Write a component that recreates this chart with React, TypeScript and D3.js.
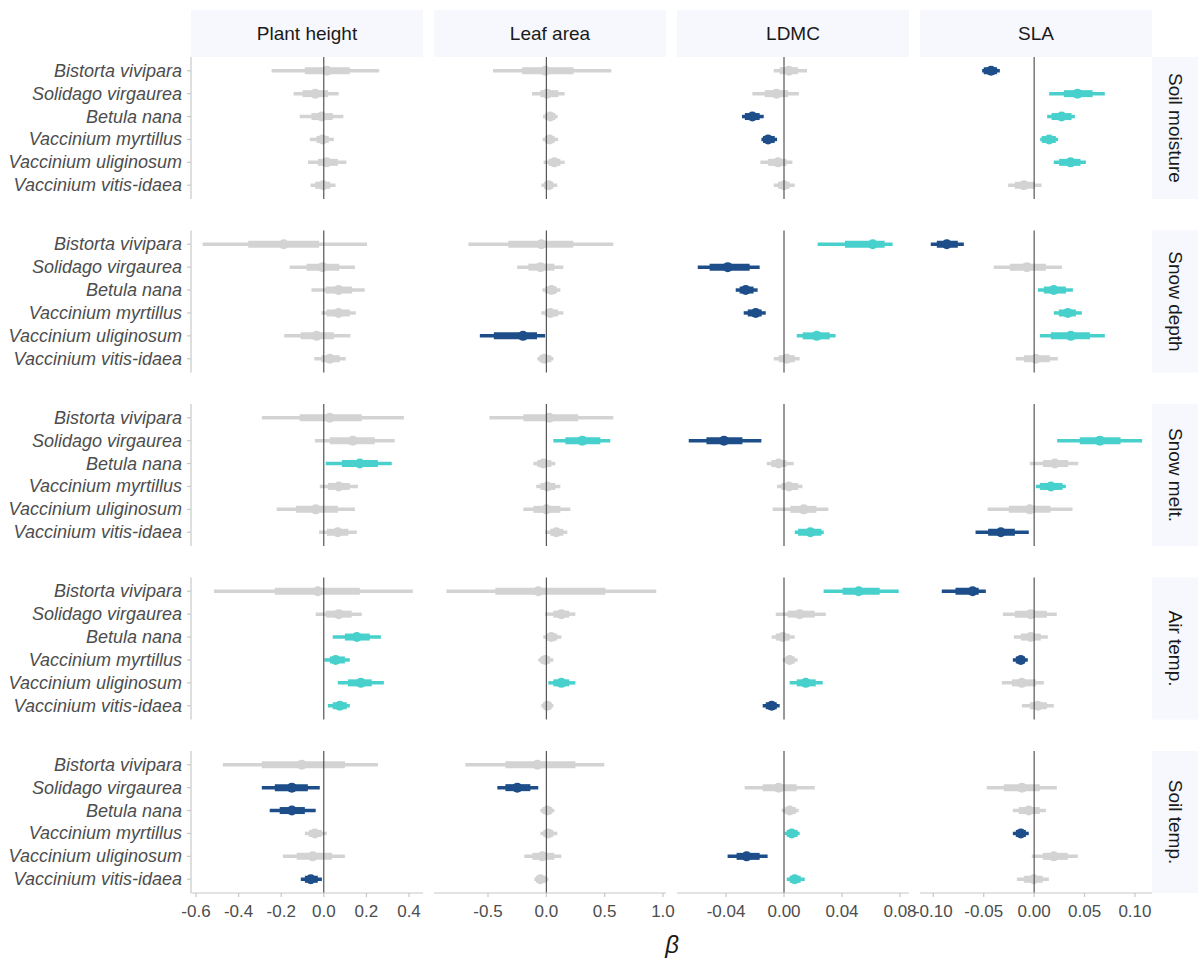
import * as d3 from "d3";

// species, drivers (rows) and traits (columns)
const species = [
  "Bistorta vivipara",
  "Solidago virgaurea",
  "Betula nana",
  "Vaccinium myrtillus",
  "Vaccinium uliginosum",
  "Vaccinium vitis-idaea",
];
const drivers = ["Soil moisture", "Snow depth", "Snow melt.", "Air temp.", "Soil temp."];
const traits = ["Plant height", "Leaf area", "LDMC", "SLA"];

// each entry: [estimate, 66% lo, 66% hi, 95% lo, 95% hi, direction]
// direction: 1 = positive, -1 = negative, 0 = overlaps zero; null = no estimate
type Est = [number, number, number, number, number, number] | null;

const plantHeight: Est[] = [
  // Soil moisture
  [0.015, -0.089, 0.122, -0.245, 0.26, 0],
  [-0.04, -0.1, 0.02, -0.142, 0.07, 0],
  [-0.01, -0.058, 0.042, -0.113, 0.092, 0],
  [-0.006, -0.034, 0.023, -0.066, 0.047, 0],
  [0.013, -0.028, 0.066, -0.074, 0.106, 0],
  [-0.003, -0.04, 0.03, -0.062, 0.055, 0],
  // Snow depth
  [-0.188, -0.355, -0.022, -0.569, 0.203, 0],
  [-0.006, -0.081, 0.072, -0.16, 0.146, 0],
  [0.069, 0.008, 0.133, -0.058, 0.192, 0],
  [0.069, 0.013, 0.122, -0.011, 0.15, 0],
  [-0.034, -0.108, 0.047, -0.186, 0.125, 0],
  [0.028, -0.011, 0.075, -0.045, 0.103, 0],
  // Snow melt
  [0.028, -0.113, 0.178, -0.291, 0.376, 0],
  [0.136, 0.028, 0.239, -0.042, 0.333, 0],
  [0.169, 0.085, 0.254, 0.009, 0.319, 1],
  [0.07, 0.019, 0.122, -0.019, 0.16, 0],
  [-0.038, -0.131, 0.066, -0.221, 0.146, 0],
  [0.065, 0.015, 0.115, -0.022, 0.155, 0],
  // Air temp
  [-0.028, -0.23, 0.169, -0.516, 0.418, 0],
  [0.07, 0.009, 0.131, -0.038, 0.178, 0],
  [0.155, 0.099, 0.216, 0.042, 0.268, 1],
  [0.056, 0.028, 0.099, 0.003, 0.122, 1],
  [0.174, 0.113, 0.225, 0.066, 0.282, 1],
  [0.075, 0.042, 0.108, 0.019, 0.122, 1],
  // Soil temp
  [-0.103, -0.291, 0.099, -0.474, 0.254, 0],
  [-0.15, -0.23, -0.075, -0.291, -0.019, -1],
  [-0.15, -0.207, -0.089, -0.254, -0.038, -1],
  [-0.042, -0.07, -0.009, -0.089, 0.014, 0],
  [-0.052, -0.127, 0.038, -0.192, 0.099, 0],
  [-0.061, -0.089, -0.028, -0.108, -0.009, -1],
];

const leafArea: Est[] = [
  [-0.009, -0.208, 0.234, -0.457, 0.557, 0],
  [0.006, -0.051, 0.103, -0.123, 0.157, 0],
  [0.034, -0.01, 0.077, -0.028, 0.097, 0],
  [0.028, -0.01, 0.07, -0.031, 0.1, 0],
  [0.069, 0.02, 0.12, -0.023, 0.157, 0],
  [0.02, -0.02, 0.06, -0.043, 0.094, 0],
  [-0.043, -0.326, 0.231, -0.668, 0.574, 0],
  [-0.05, -0.154, 0.069, -0.25, 0.146, 0],
  [0.043, -0.01, 0.09, -0.034, 0.12, 0],
  [0.034, -0.01, 0.1, -0.043, 0.146, 0],
  [-0.2, -0.45, -0.08, -0.57, -0.01, -1],
  [-0.017, -0.06, 0.043, -0.077, 0.06, 0],
  [0.026, -0.197, 0.274, -0.488, 0.574, 0],
  [0.308, 0.163, 0.463, 0.06, 0.548, 1],
  [-0.026, -0.077, 0.043, -0.111, 0.077, 0],
  [0.009, -0.051, 0.077, -0.086, 0.12, 0],
  [0.0, -0.111, 0.12, -0.197, 0.206, 0],
  [0.086, 0.034, 0.146, -0.01, 0.18, 0],
  [-0.069, -0.437, 0.506, -0.857, 0.943, 0],
  [0.129, 0.06, 0.197, -0.01, 0.249, 0],
  [0.043, 0.0, 0.094, -0.026, 0.129, 0],
  [-0.009, -0.051, 0.034, -0.069, 0.06, 0],
  [0.129, 0.06, 0.197, 0.017, 0.249, 1],
  [0.009, -0.026, 0.043, -0.043, 0.06, 0],
  [-0.077, -0.351, 0.249, -0.694, 0.497, 0],
  [-0.249, -0.351, -0.137, -0.42, -0.069, -1],
  [0.009, -0.034, 0.051, -0.051, 0.069, 0],
  [0.017, -0.026, 0.06, -0.051, 0.094, 0],
  [-0.034, -0.12, 0.069, -0.189, 0.129, 0],
  [-0.051, -0.086, 0.0, -0.103, 0.017, 0],
];

const ldmc: Est[] = [
  [0.0034, -0.003, 0.0097, -0.0071, 0.0159, 0],
  [-0.0052, -0.0133, 0.0028, -0.0218, 0.0103, 0],
  [-0.0218, -0.027, -0.0168, -0.029, -0.014, -1],
  [-0.011, -0.0145, -0.0064, -0.0156, -0.0048, -1],
  [-0.0041, -0.011, 0.0017, -0.0163, 0.0058, 0],
  [0.0, -0.0041, 0.0039, -0.0071, 0.0074, 0],
  [0.0612, 0.042, 0.0694, 0.0232, 0.0749, 1],
  [-0.0388, -0.0513, -0.0237, -0.0595, -0.0168, -1],
  [-0.0264, -0.0306, -0.021, -0.0333, -0.0182, -1],
  [-0.0195, -0.025, -0.0154, -0.0278, -0.0126, -1],
  [0.0226, 0.0129, 0.0315, 0.0088, 0.0356, 1],
  [0.0019, -0.0037, 0.0074, -0.0071, 0.0108, 0],
  null,
  [-0.0414, -0.0535, -0.0287, -0.0657, -0.0156, -1],
  [-0.0037, -0.0087, 0.0017, -0.0119, 0.0067, 0],
  [0.0034, -0.0018, 0.0097, -0.0048, 0.0127, 0],
  [0.0136, 0.0044, 0.0223, -0.0078, 0.0306, 0],
  [0.0182, 0.0097, 0.0258, 0.0074, 0.0274, 1],
  [0.0515, 0.0404, 0.066, 0.0273, 0.0791, 1],
  [0.0108, 0.0025, 0.0211, -0.0057, 0.0288, 0],
  [-0.0009, -0.0057, 0.0039, -0.0085, 0.0074, 0],
  [0.0039, 0.0012, 0.0074, -0.0009, 0.0094, 0],
  [0.015, 0.0088, 0.0219, 0.0039, 0.0267, 1],
  [-0.0085, -0.0126, -0.005, -0.0147, -0.003, -1],
  null,
  [-0.0037, -0.0147, 0.0087, -0.0271, 0.0212, 0],
  [0.0039, 0.0005, 0.0081, -0.0016, 0.0101, 0],
  [0.0053, 0.0019, 0.0094, 0.0005, 0.0108, 1],
  [-0.0258, -0.0327, -0.0168, -0.0389, -0.0113, -1],
  [0.0074, 0.0039, 0.0115, 0.0019, 0.0143, 1],
];

const sla: Est[] = [
  [-0.0427, -0.05, -0.0367, -0.0516, -0.034, -1],
  [0.043, 0.0295, 0.058, 0.0149, 0.0701, 1],
  [0.0272, 0.0173, 0.0371, 0.0129, 0.0404, 1],
  [0.0149, 0.0076, 0.0215, 0.006, 0.0238, 1],
  [0.0361, 0.0248, 0.046, 0.0195, 0.0513, 1],
  [-0.0102, -0.0191, 0.0007, -0.0258, 0.0073, 0],
  [-0.0866, -0.0965, -0.0757, -0.1025, -0.0697, -1],
  [-0.0072, -0.0241, 0.0116, -0.04, 0.0275, 0],
  [0.0195, 0.0096, 0.0315, 0.0037, 0.0384, 1],
  [0.0334, 0.0245, 0.0414, 0.0195, 0.0473, 1],
  [0.0364, 0.0166, 0.0553, 0.0057, 0.0701, 1],
  [0.0017, -0.0102, 0.0156, -0.0182, 0.0235, 0],
  null,
  [0.0652, 0.0453, 0.0857, 0.0228, 0.1071, 1],
  [0.0205, 0.0089, 0.0337, -0.0043, 0.0437, 0],
  [0.0166, 0.0057, 0.0282, 0.0017, 0.0314, 1],
  [-0.0043, -0.0251, 0.0163, -0.0462, 0.0381, 0],
  [-0.033, -0.0456, -0.0191, -0.0581, -0.0053, -1],
  [-0.061, -0.078, -0.055, -0.0916, -0.0479, -1],
  [-0.0033, -0.0191, 0.0126, -0.031, 0.0225, 0],
  [-0.0033, -0.0132, 0.0066, -0.0201, 0.0136, 0],
  [-0.0132, -0.0182, -0.0092, -0.0211, -0.0063, -1],
  [-0.0122, -0.0221, 0.0017, -0.032, 0.0096, 0],
  [0.0037, -0.0043, 0.0126, -0.0122, 0.0195, 0],
  null,
  [-0.0122, -0.0301, 0.0056, -0.047, 0.0225, 0],
  [-0.0053, -0.0152, 0.0056, -0.0211, 0.0116, 0],
  [-0.0132, -0.0182, -0.0082, -0.0211, -0.0053, -1],
  [0.0195, 0.0086, 0.0334, -0.0023, 0.0433, 0],
  [-0.0003, -0.0102, 0.0086, -0.0171, 0.0146, 0],
];

const traitData = [plantHeight, leafArea, ldmc, sla];

// axis setup per trait column
const xDomains: [number, number][] = [
  [-0.6235, 0.4657],
  [-0.963, 1.026],
  [-0.0738, 0.0862],
  [-0.1132, 0.1169],
];
const xTicks = [
  [-0.6, -0.4, -0.2, 0, 0.2, 0.4],
  [-0.5, 0, 0.5, 1.0],
  [-0.04, 0, 0.04, 0.08],
  [-0.1, -0.05, 0, 0.05, 0.1],
];
const tickDigits = [1, 1, 2, 2];

const colors: Record<string, string> = {
  "1": "#48D1CC",
  "-1": "#1D4E89",
  "0": "#D3D3D3",
};

const W = 1198;
const H = 960;
const panelLeft = 191;
const panelW = 232;
const colStep = 243;
const panelTop = 57;
const panelH = 142;
const rowStep = 173.5;
const font = "'Liberation Sans', Arial, Helvetica, sans-serif";
const axisGrey = "#C8C8C8";
const textGrey = "#4D4D4D";
const stripFill = "#F7F8FD";

const locale = d3.formatLocale({ decimal: ".", thousands: ",", grouping: [3], currency: ["", ""], minus: "-" });

export default function App() {
  return (
    <svg
      width={W}
      height={H}
      style={{ position: "absolute", left: 0, top: 0, background: "#fff" }}
      fontFamily={font}
    >
      {/* top strips */}
      {traits.map((t, c) => {
        const x0 = panelLeft + c * colStep;
        return (
          <g key={t}>
            <rect x={x0} y={10} width={panelW} height={47} fill={stripFill} />
            <text x={x0 + panelW / 2} y={40} textAnchor="middle" fontSize={19} fill="#1A1A1A">
              {t}
            </text>
          </g>
        );
      })}

      {drivers.map((d, r) => {
        const y0 = panelTop + r * rowStep;
        const y = d3.scalePoint<string>().domain(species).range([y0, y0 + panelH]).padding(0.6);
        return (
          <g key={d}>
            {/* right strip */}
            <rect x={1152} y={y0} width={W - 1152} height={panelH} fill={stripFill} />
            <text
              transform={`translate(1175,${y0 + panelH / 2}) rotate(90)`}
              textAnchor="middle"
              dominantBaseline="central"
              fontSize={19}
              fill="#1A1A1A"
            >
              {d}
            </text>

            {/* y axis */}
            <line x1={panelLeft} x2={panelLeft} y1={y0} y2={y0 + panelH} stroke={axisGrey} strokeWidth={1.2} />
            {species.map((s) => (
              <g key={s}>
                <line x1={panelLeft - 4} x2={panelLeft} y1={y(s)} y2={y(s)} stroke={axisGrey} strokeWidth={1.2} />
                <text
                  x={panelLeft - 9}
                  y={y(s)}
                  textAnchor="end"
                  dominantBaseline="central"
                  fontSize={18}
                  fontStyle="italic"
                  fill={textGrey}
                >
                  {s}
                </text>
              </g>
            ))}

            {traits.map((t, c) => {
              const x0 = panelLeft + c * colStep;
              const x = d3.scaleLinear().domain(xDomains[c]).range([x0, x0 + panelW]);
              const rows = traitData[c].slice(r * species.length, (r + 1) * species.length);
              return (
                <g key={t}>
                  {rows.map((e, i) => {
                    if (!e) return null;
                    const [est, lo66, hi66, lo95, hi95, dir] = e;
                    const yy = y(species[i]) as number;
                    const col = colors[String(dir)];
                    return (
                      <g key={i}>
                        <line x1={x(lo95)} x2={x(hi95)} y1={yy} y2={yy} stroke={col} strokeWidth={3.5} />
                        <line x1={x(lo66)} x2={x(hi66)} y1={yy} y2={yy} stroke={col} strokeWidth={7} />
                        <circle cx={x(est)} cy={yy} r={5} fill={col} />
                      </g>
                    );
                  })}
                  <line x1={x(0)} x2={x(0)} y1={y0} y2={y0 + panelH} stroke="#333" strokeWidth={1} />
                </g>
              );
            })}
          </g>
        );
      })}

      {/* x axes on bottom row */}
      {traits.map((t, c) => {
        const x0 = panelLeft + c * colStep;
        const x = d3.scaleLinear().domain(xDomains[c]).range([x0, x0 + panelW]);
        const yb = panelTop + 4 * rowStep + panelH;
        const fmt = locale.format(`.${tickDigits[c]}f`);
        return (
          <g key={t}>
            <line x1={x0} x2={x0 + panelW} y1={yb} y2={yb} stroke={axisGrey} strokeWidth={1.2} />
            {xTicks[c].map((v) => (
              <g key={v}>
                <line x1={x(v)} x2={x(v)} y1={yb} y2={yb + 4} stroke={axisGrey} strokeWidth={1.2} />
                <text x={x(v)} y={yb + 24} textAnchor="middle" fontSize={17} fill={textGrey}>
                  {fmt(v)}
                </text>
              </g>
            ))}
          </g>
        );
      })}

      <text x={672} y={953} textAnchor="middle" fontSize={24} fontStyle="italic" fill="#1A1A1A">
        β
      </text>
    </svg>
  );
}
